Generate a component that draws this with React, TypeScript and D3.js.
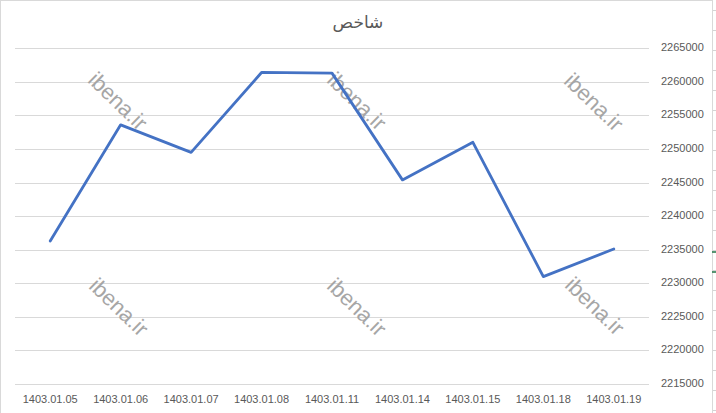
import React, { useRef, useEffect } from "react"
import * as d3 from "d3"

// chart values
const dates = [
  "1403.01.05", "1403.01.06", "1403.01.07", "1403.01.08", "1403.01.11",
  "1403.01.14", "1403.01.15", "1403.01.18", "1403.01.19",
]
const values = [2236300, 2253600, 2249500, 2261400, 2261300, 2245400, 2251000, 2231000, 2235100]
const yTicks = [2215000, 2220000, 2225000, 2230000, 2235000, 2240000, 2245000, 2250000, 2255000, 2260000, 2265000]
const title = "شاخص"

const W = 716
const H = 413

const App = () => {
  const ref = useRef<SVGSVGElement>(null)

  useEffect(() => {
    const svg = d3.select(ref.current)
    svg.selectAll("*").remove()

    const x = d3.scalePoint<string>().domain(dates).range([15, 649]).padding(0.5)
    const y = d3.scaleLinear().domain([yTicks[0], yTicks[yTicks.length - 1]]).range([384, 48.3])

    svg.append("rect").attr("width", W).attr("height", H).attr("fill", "#fff")

    // chart frame
    svg.append("rect")
      .attr("x", 0.5).attr("y", 0.5)
      .attr("width", 712).attr("height", H + 10)
      .attr("fill", "none").attr("stroke", "#d9d9d9")

    // sheet row marks at right edge
    const rows = d3.range(10.5, H, 20)
    svg.selectAll(".row").data(rows).enter().append("line")
      .attr("x1", 713).attr("x2", W)
      .attr("y1", d => d).attr("y2", d => d)
      .attr("stroke", "#d4d4d4")
    svg.selectAll(".sel").data([252, 272]).enter().append("line")
      .attr("x1", 712).attr("x2", W)
      .attr("y1", d => d).attr("y2", d => d)
      .attr("stroke", "#217346").attr("stroke-width", 1.5)

    // title
    svg.append("text")
      .attr("x", 358).attr("y", 28)
      .attr("text-anchor", "middle")
      .attr("font-family", "DejaVu Sans")
      .attr("font-size", 17)
      .attr("fill", "#595959")
      .text(title)

    // grid
    svg.append("g").selectAll("line").data(yTicks).enter().append("line")
      .attr("x1", 15).attr("x2", 649)
      .attr("y1", d => Math.round(y(d)) + 0.5).attr("y2", d => Math.round(y(d)) + 0.5)
      .attr("stroke", "#d9d9d9")

    // y labels
    svg.append("g").selectAll("text").data(yTicks).enter().append("text")
      .attr("x", 661).attr("y", d => y(d) + 3)
      .attr("font-family", "Liberation Sans, Arial")
      .attr("font-size", 11)
      .attr("fill", "#595959")
      .text(d => String(d))

    // x labels
    svg.append("g").selectAll("text").data(dates).enter().append("text")
      .attr("x", d => x(d) as number).attr("y", 403)
      .attr("text-anchor", "middle")
      .attr("font-family", "Liberation Sans, Arial")
      .attr("font-size", 11)
      .attr("fill", "#595959")
      .text(d => d)

    // watermarks
    const marks = [[118, 101], [357, 101], [594, 102], [119, 307], [357, 307], [595, 306]]
    svg.append("g").selectAll("text").data(marks).enter().append("text")
      .attr("transform", d => `translate(${d[0]},${d[1]}) rotate(44)`)
      .attr("text-anchor", "middle")
      .attr("dy", "0.35em")
      .attr("font-family", "Liberation Sans, Arial")
      .attr("font-size", 22)
      .attr("fill", "#a6a6a6")
      .text("ibena.ir")

    // series line
    const line = d3.line<number>()
      .x((d, i) => x(dates[i]) as number)
      .y(d => y(d))
    svg.append("path")
      .datum(values)
      .attr("d", line)
      .attr("fill", "none")
      .attr("stroke", "#4472c4")
      .attr("stroke-width", 2.8)
      .attr("stroke-linejoin", "round")
      .attr("stroke-linecap", "round")
  }, [])

  return (
    <svg ref={ref} width={W} height={H} style={{ position: "absolute", left: 0, top: 0 }} />
  )
}

export default App
